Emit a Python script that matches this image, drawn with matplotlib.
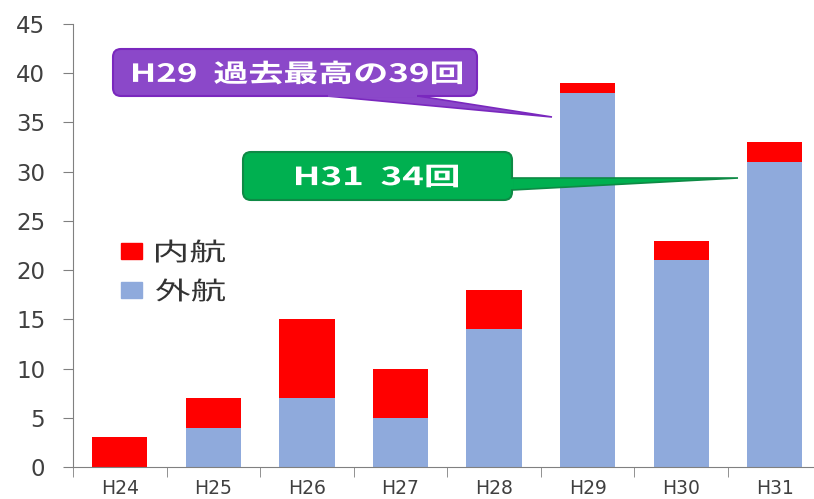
import matplotlib.pyplot as plt
from matplotlib.patches import FancyBboxPatch, Polygon, Rectangle, PathPatch
from matplotlib.textpath import TextPath
from matplotlib.font_manager import FontProperties
from matplotlib.transforms import Affine2D

plt.rcParams['font.family'] = ['DejaVu Sans']

years = ['H24', 'H25', 'H26', 'H27', 'H28', 'H29', 'H30', 'H31']
gaiko = [0, 4, 7, 5, 14, 38, 21, 31]    # 外航
naiko = [3, 3, 8, 5, 4, 1, 2, 2]        # 内航
yticks = [0, 5, 10, 15, 20, 25, 30, 35, 40, 45]

W, H = 814, 499
fig = plt.figure(figsize=(W / 100, H / 100), dpi=100)
ax = fig.add_axes([73 / W, 1 - 467 / H, 1 - 73 / W, (467 - 24) / H])

blue = '#8FAADC'
red = '#FF0000'
x = range(len(years))
ax.bar(x, gaiko, width=0.59, color=blue, zorder=2)
ax.bar(x, naiko, width=0.59, bottom=gaiko, color=red, zorder=2)

ax.set_xlim(-0.5, 7.42)
ax.set_ylim(0, 45)
ax.set_yticks(yticks)
ax.set_yticklabels([str(v) for v in yticks], fontsize=16.5, color='#404040')
ax.set_xticks(list(x))
ax.set_xticklabels(years, fontsize=13.5, color='#404040')
ax.tick_params(axis='x', length=0, pad=9)
ax.tick_params(axis='y', length=7, color='#808080', pad=13)
# category boundary ticks on x axis
ax.set_xticks([i - 0.5 for i in range(len(years))], minor=True)
ax.tick_params(axis='x', which='minor', length=7, color='#808080')
for s in ['top', 'right']:
    ax.spines[s].set_visible(False)
for s in ['left', 'bottom']:
    ax.spines[s].set_color('#808080')

# pixel coordinates, origin top-left like the image
pxT = Affine2D().scale(1, -1).translate(0, H).scale(1 / W, 1 / H) + fig.transFigure

cjk = FontProperties(family='Noto Sans CJK JP')
cjk_b = FontProperties(family='Noto Sans CJK JP', weight='bold')


def wide_text(s, x0, x1, cy, size, prop, color, z=8):
    # text squeezed/stretched to span x0..x1 horizontally
    tp = TextPath((0, 0), s, size=size, prop=prop)
    bb = tp.get_extents()
    sx = (x1 - x0) / bb.width
    tr = (Affine2D().translate(-bb.x0, -(bb.y0 + bb.y1) / 2)
          .scale(sx, -1).translate(x0, cy))
    fig.patches.append(PathPatch(tr.transform_path(tp), fc=color, ec='none',
                                 lw=0, transform=pxT, zorder=z))


# legend
for (y0, y1), c, lab in [((243, 259), red, '内航'), ((282, 298), blue, '外航')]:
    fig.patches.append(Rectangle((121, y0), 21, y1 - y0, color=c, transform=pxT))
    wide_text(lab, 156, 225, (y0 + y1) / 2, 25, cjk, '#333333')


# callouts
def callout(box, tail, fc, ec, text, tx):
    x0, y0, x1, y1 = box
    fig.patches.append(Polygon(tail, closed=True, fc=fc, ec=ec, lw=1.2,
                               transform=pxT, zorder=5))
    fig.patches.append(FancyBboxPatch((x0, y0), x1 - x0, y1 - y0,
                                      boxstyle='round,pad=0,rounding_size=8',
                                      fc=fc, ec=ec, lw=1.5, transform=pxT, zorder=6))
    # hide the box outline where the tail joins
    (ax_, ay_), _, (bx_, by_) = tail
    if ay_ == by_:
        cover = [(ax_ + 1, ay_ + 1), (ax_ + 1, ay_ - 3), (bx_ - 1, by_ - 3), (bx_ - 1, by_ + 1)]
    else:
        cover = [(ax_ + 1, ay_ + 1), (ax_ - 3, ay_ + 1), (bx_ - 3, by_ - 1), (bx_ + 1, by_ - 1)]
    fig.patches.append(Polygon(cover, closed=True, fc=fc, ec='none',
                               transform=pxT, zorder=7))
    wide_text(text, tx[0], tx[1], (y0 + y1) / 2, 25, cjk_b, 'white')


callout((113, 49, 477, 96), [(327, 96), (552, 117), (418, 96)],
        '#8B48C9', '#7A28BE', 'H29  過去最高の39回', (133, 462))
callout((243, 152, 512, 200), [(512, 178), (738, 178), (512, 190)],
        '#00B050', '#0E8A45', 'H31  34回', (296, 458))

fig.savefig('out.png', dpi=100)
